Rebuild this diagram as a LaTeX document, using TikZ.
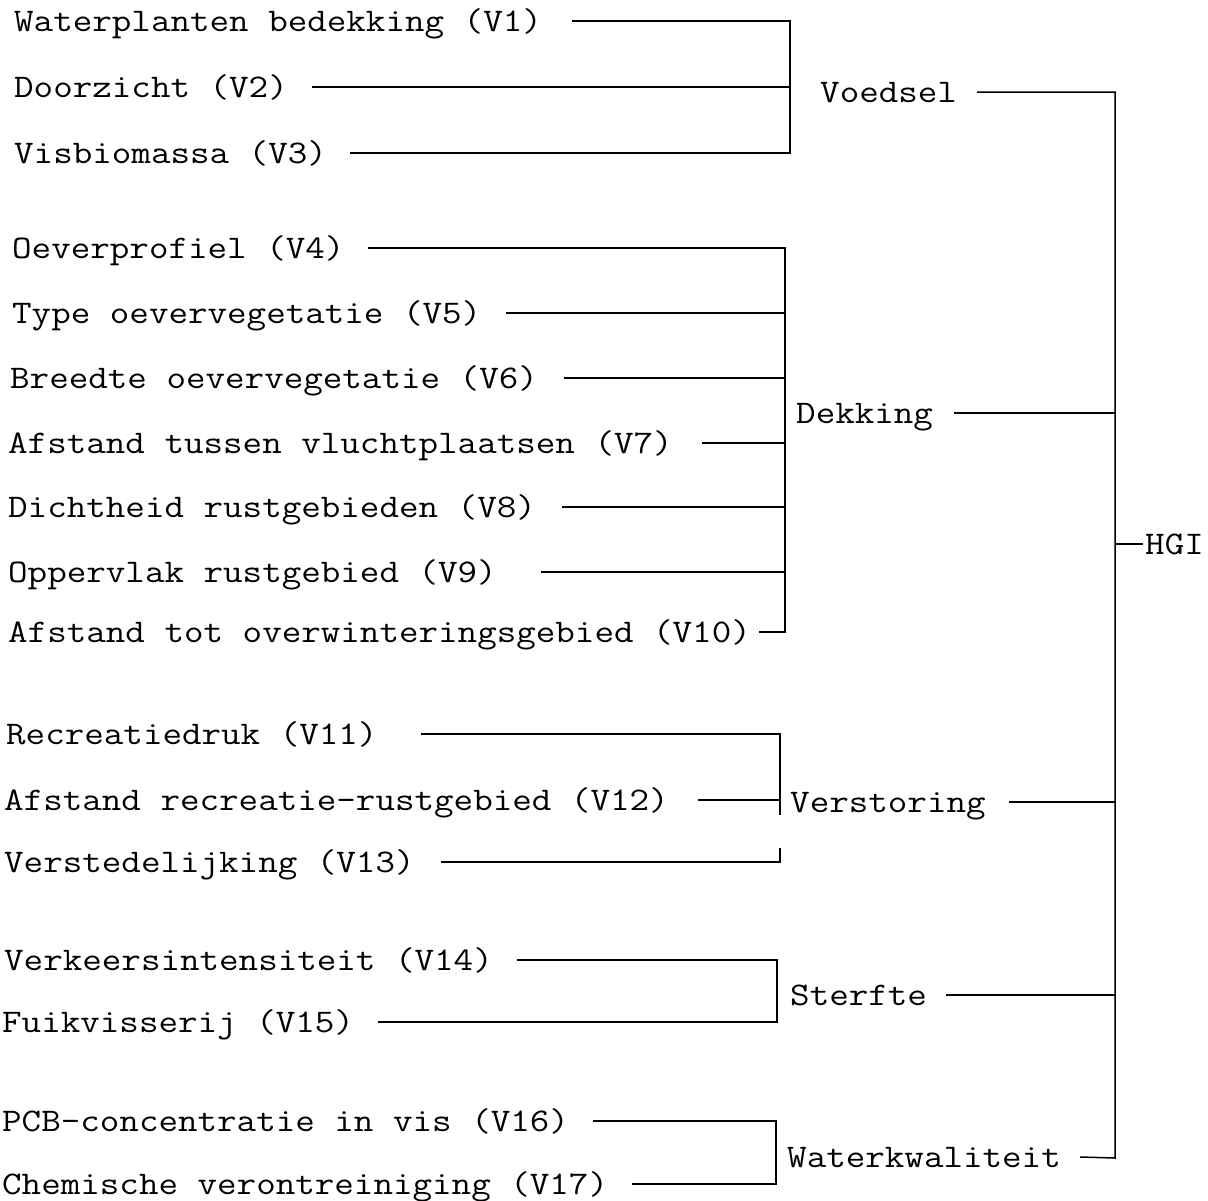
\documentclass[tikz,border=0pt]{standalone}
\usepackage{graphicx}
\newcommand{\lbl}[1]{\scalebox{1.15}[1]{#1}}
\begin{document}
\begin{tikzpicture}[
    x=1pt,y=-1pt,
    item/.style={font=\fontsize{33}{33}\selectfont\ttfamily,inner sep=0pt,anchor=west,
                 text height=20pt,text depth=0pt},
    con/.style={line width=1.5pt}
]
\useasboundingbox (0,0) rectangle (1208,1200);

% bracket positions
\coordinate (b1) at (790,0);
\coordinate (b2) at (785,0);
\coordinate (b3) at (780,0);
\coordinate (b4) at (777,0);
\coordinate (b5) at (776,0);
\coordinate (top) at (1115,92);
\coordinate (bot) at (1115,1158);

% Voedsel
\node[item] (v1) at (14,21) {\lbl{Waterplanten bedekking (V1)}};
\node[item] (v2) at (14,87) {\lbl{Doorzicht (V2)}};
\node[item] (v3) at (14,153) {\lbl{Visbiomassa (V3)}};
\node[item] (voedsel) at (820,92) {\lbl{Voedsel}};

\draw[con] ([xshift=30pt]v1.east) -| (v3.east -| b1) -- ([xshift=23pt]v3.east);
\draw[con] ([xshift=24pt]v2.east) -- (v2.east -| b1);

% Dekking
\node[item] (v4) at (12,248) {\lbl{Oeverprofiel (V4)}};
\node[item] (v5) at (12,313) {\lbl{Type oevervegetatie (V5)}};
\node[item] (v6) at (10,378) {\lbl{Breedte oevervegetatie (V6)}};
\node[item] (v7) at (8,443) {\lbl{Afstand tussen vluchtplaatsen (V7)}};
\node[item] (v8) at (8,507) {\lbl{Dichtheid rustgebieden (V8)}};
\node[item] (v9) at (8,572) {\lbl{Oppervlak rustgebied (V9)}};
\node[item] (v10) at (8,632) {\lbl{Afstand tot overwinteringsgebied (V10)}};
\node[item] (dekking) at (796,413) {\lbl{Dekking}};

\draw[con] ([xshift=23pt]v4.east) -| (v10.east -| b2) -- ([xshift=8pt]v10.east);
\draw[con] ([xshift=25pt]v5.east) -- (v5.east -| b2);
\draw[con] ([xshift=26pt]v6.east) -- (v6.east -| b2);
\draw[con] ([xshift=29pt]v7.east) -- (v7.east -| b2);
\draw[con] ([xshift=26pt]v8.east) -- (v8.east -| b2);
\draw[con] ([xshift=44pt]v9.east) -- (v9.east -| b2);

% Verstoring
\node[item] (v11) at (6,734) {\lbl{Recreatiedruk (V11)}};
\node[item] (v12) at (4,800) {\lbl{Afstand recreatie-rustgebied (V12)}};
\node[item] (v13) at (4,862) {\lbl{Verstedelijking (V13)}};
\node[item] (verstoring) at (790,802) {\lbl{Verstoring}};

\draw[con] ([xshift=43pt]v11.east) -| ([yshift=-15pt]v12.east -| b3);
\draw[con] ([xshift=29pt]v12.east) -- (v12.east -| b3);
\draw[con] ([xshift=26pt]v13.east) -| ([yshift=14pt]v13.east -| b3);

% Sterfte
\node[item] (v14) at (4,960) {\lbl{Verkeersintensiteit (V14)}};
\node[item] (v15) at (2,1022) {\lbl{Fuikvisserij (V15)}};
\node[item] (sterfte) at (790,995) {\lbl{Sterfte}};

\draw[con] ([xshift=24pt]v14.east) -| (v15.east -| b4) -- ([xshift=24pt]v15.east);

% Waterkwaliteit
\node[item] (v16) at (2,1121) {\lbl{PCB-concentratie in vis (V16)}};
\node[item] (v17) at (2,1184) {\lbl{Chemische verontreiniging (V17)}};
\node[item] (water) at (787,1157) {\lbl{Waterkwaliteit}};

\draw[con] ([xshift=24pt]v16.east) -| (v17.east -| b5) -- ([xshift=24pt]v17.east);

% HGI
\node[item] (hgi) at (1145,544) {\lbl{HGI}};

\draw[con] ([xshift=20pt]voedsel.east) -| (bot) -- ([xshift=19pt]water.east);
\draw[con] ([xshift=21pt]dekking.east) -- (dekking.east -| top);
\draw[con] ([xshift=23pt]verstoring.east) -- (verstoring.east -| top);
\draw[con] ([xshift=19pt]sterfte.east) -- (sterfte.east -| top);
\draw[con] (hgi.west -| top) -- ([xshift=-2pt]hgi.west);
\end{tikzpicture}
\end{document}
